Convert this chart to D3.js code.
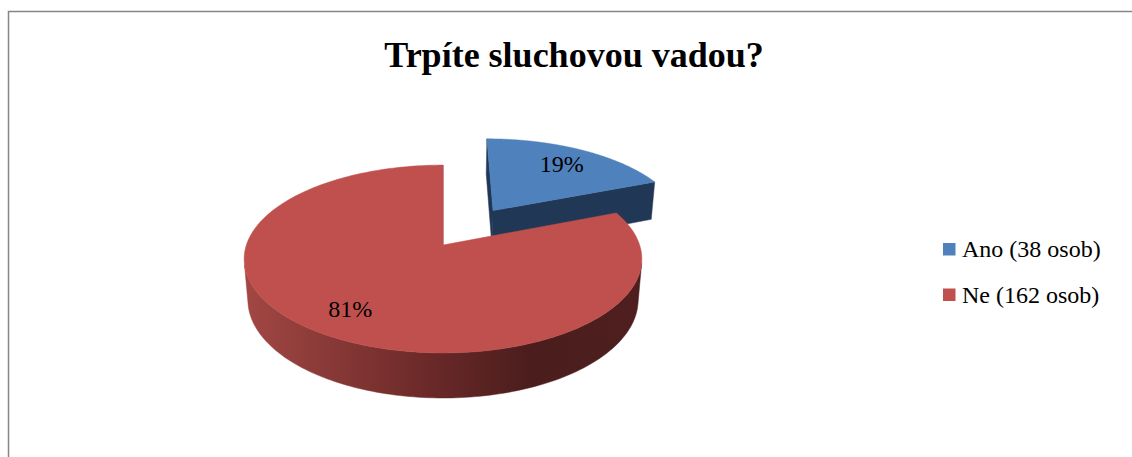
<!DOCTYPE html>
<html>
<head>
<meta charset="utf-8">
<script src="https://cdn.jsdelivr.net/npm/d3@7"></script>
<style>
  html, body { margin: 0; padding: 0; background: #fff; overflow: hidden; }
  svg { display: block; overflow: hidden; }
</style>
</head>
<body>
<div id="chart"></div>
<script>
// chart data
const categories = ['Ano (38 osob)', 'Ne (162 osob)'];
const values = [38, 162];
const percentLabels = ['19%', '81%'];
const titleText = 'Trpíte sluchovou vadou?';

const width = 1132, height = 457;
const fontFamily = "'Liberation Serif', 'Times New Roman', Times, serif";
const topColors = ['#4F81BD', '#C0504D'];
const faceColors = ['#213756', '#7a2f2d'];
const wallStops = [
  ['#3a5f8c', '#2a476c', '#1f3452', '#213756'],
  ['#a24744', '#6c2a29', '#4b1d1d', '#4f1f1f']
];
const explode = [0.48, 0];

// simple perspective camera for the 3d pie
const cx = 443, cy = 245;
const focal = 1166, dist = 5.93, sinP = 0.467, cosP = Math.sqrt(1 - sinP * sinP);
const thick = 0.237;
const labelR = 0.76;

function project(X, Z, Y) {
  const depth = dist + Z * cosP - Y * sinP;
  return [cx + focal * X / depth, cy - focal * (Y * cosP + Z * sinP) / depth];
}

const svg = d3.select('#chart').append('svg')
  .attr('width', width).attr('height', height)
  .attr('font-family', fontFamily);

// chart border (right and bottom edges fall outside the picture)
svg.append('path').attr('d', `M8.5,${height}V11.5H${width}`)
  .attr('fill', 'none').attr('stroke', '#868686').attr('stroke-width', 1.5);

svg.append('text').attr('x', 574).attr('y', 67).attr('text-anchor', 'middle')
  .attr('font-family', fontFamily)
  .attr('font-size', 36).attr('font-weight', 'bold').text(titleText);

const pie = d3.pie().sort(null).value(d => d);
const arcs = pie(values).map((a, i) => {
  const mid = (a.startAngle + a.endAngle) / 2;
  return Object.assign(a, { i, mid, ox: explode[i] * Math.sin(mid), oz: explode[i] * Math.cos(mid) });
});

const defs = svg.append('defs');
const line = d3.line();
const gPie = svg.append('g');

function rim(a, t, Y) { return project(a.ox + Math.sin(t), a.oz + Math.cos(t), Y); }
function apex(a, Y) { return project(a.ox, a.oz, Y); }

// camera position in world coords
const camZ = -dist * cosP;

// far slices first
const order = arcs.slice().sort((p, q) => q.oz + Math.cos(q.mid) * 0.5 - (p.oz + Math.cos(p.mid) * 0.5));

order.forEach(a => {
  const g = gPie.append('g');
  const s = a.startAngle, e = a.endAngle;

  // outer wall: visible where its normal faces the camera
  const steps = 240;
  let seg = [];
  const segs = [];
  for (let k = 0; k <= steps; k++) {
    const t = s + (e - s) * k / steps;
    const vis = -1 - a.ox * Math.sin(t) - (a.oz - camZ) * Math.cos(t) > 0;
    if (vis) seg.push(t); else if (seg.length) { segs.push(seg); seg = []; }
  }
  if (seg.length) segs.push(seg);
  segs.forEach((sg, j) => {
    const top = sg.map(t => rim(a, t, 0));
    const bot = sg.map(t => rim(a, t, -thick)).reverse();
    const xs = top.map(p => p[0]);
    const id = 'wall' + a.i + '_' + j;
    const grad = defs.append('linearGradient').attr('id', id)
      .attr('gradientUnits', 'userSpaceOnUse')
      .attr('x1', d3.min(xs)).attr('x2', d3.max(xs)).attr('y1', 0).attr('y2', 0);
    [0, 0.45, 0.72, 1].forEach((o, n) => grad.append('stop').attr('offset', o).attr('stop-color', wallStops[a.i][n]));
    g.append('path').attr('d', line(top.concat(bot)) + 'Z').attr('fill', `url(#${id})`)
      .attr('stroke', `url(#${id})`).attr('stroke-width', 0.5);
  });

  // cut faces
  const startVis = Math.cos(s) * a.ox + Math.sin(s) * (camZ - a.oz) > 0;
  const endVis = -Math.cos(e) * a.ox - Math.sin(e) * (camZ - a.oz) > 0;
  [[s, startVis], [e, endVis]].forEach(([t, vis]) => {
    if (!vis) return;
    const pts = [apex(a, 0), rim(a, t, 0), rim(a, t, -thick), apex(a, -thick)];
    g.append('path').attr('d', line(pts) + 'Z').attr('fill', faceColors[a.i])
      .attr('stroke', faceColors[a.i]).attr('stroke-width', 0.5);
  });

  // top face
  const topPts = [apex(a, 0)];
  for (let k = 0; k <= steps; k++) topPts.push(rim(a, s + (e - s) * k / steps, 0));
  g.append('path').attr('d', line(topPts) + 'Z').attr('fill', topColors[a.i])
    .attr('stroke', topColors[a.i]).attr('stroke-width', 0.5);
});

// percentage labels
arcs.forEach(a => {
  const p = project(a.ox + labelR * Math.sin(a.mid), a.oz + labelR * Math.cos(a.mid), 0);
  svg.append('text').attr('x', p[0]).attr('y', p[1] + 8.5).attr('text-anchor', 'middle')
    .attr('font-family', fontFamily).attr('font-size', 24).text(percentLabels[a.i]);
});

// legend
const legend = svg.append('g').attr('transform', 'translate(943,243)');
categories.forEach((c, i) => {
  const row = legend.append('g').attr('transform', `translate(0,${i * 45.5})`);
  row.append('rect').attr('width', 12.5).attr('height', 12.5).attr('fill', topColors[i]);
  row.append('text').attr('x', 19).attr('y', 14).attr('font-family', fontFamily)
    .attr('font-size', 24).text(c);
});
</script>
</body>
</html>
